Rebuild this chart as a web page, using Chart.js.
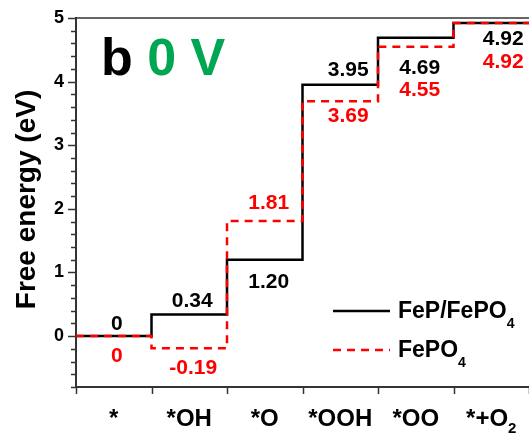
<!DOCTYPE html>
<html>
<head>
<meta charset="utf-8">
<script src="https://cdn.jsdelivr.net/npm/chart.js@4/dist/chart.umd.min.js"></script>
<style>
html,body{margin:0;padding:0;background:#fff;}
canvas{display:block;}
</style>
</head>
<body>
<canvas id="c" width="529" height="437"></canvas>
<script>
// ---- data ----
const categories = ['*', '*OH', '*O', '*OOH', '*OO', '*+O2'];
const seriesNames = ['FeP/FePO4', 'FePO4'];
const fepFepo4 = [0, 0.34, 1.20, 3.95, 4.69, 4.92];
const fepo4 = [0, -0.19, 1.81, 3.69, 4.55, 4.92];
const yTickLabels = [0, 1, 2, 3, 4, 5];
const yAxisTitle = 'Free energy (eV)';
const panelLetter = 'b';
const panelPotential = '0 V';

// label placement (pixel offsets from segment centre / line)
const blackLabelOffsets = [[3,-6],[3,-7],[4,28],[8,-9],[4,36],[12,22]];
const redLabelOffsets = [[3,26],[4,26],[4,-12],[8,21],[4,49],[12,45]];

const FONT = '"Liberation Sans", Arial, Helvetica, sans-serif';

function stepPoints(vals) {
  const pts = [];
  vals.forEach((v, i) => { pts.push({x: i, y: v}); pts.push({x: i + 1, y: v}); });
  return pts;
}

// split text so digits following a letter become subscripts
function parts(text) {
  const out = [];
  const re = /([A-Za-z])(\d+)/g;
  let last = 0, m;
  while ((m = re.exec(text)) !== null) {
    out.push({t: text.slice(last, m.index + 1), sub: false});
    out.push({t: m[2], sub: true});
    last = m.index + m[0].length;
  }
  if (last < text.length) out.push({t: text.slice(last), sub: false});
  return out;
}

function drawRich(ctx, text, x, y, size, subSize, subDy, align, color) {
  const ps = parts(text);
  let total = 0;
  ps.forEach(p => {
    ctx.font = 'bold ' + (p.sub ? subSize : size) + 'px ' + FONT;
    p.w = ctx.measureText(p.t).width;
    total += p.w;
  });
  let cx = align === 'center' ? x - total / 2 : x;
  ctx.fillStyle = color;
  ctx.textAlign = 'left';
  ctx.textBaseline = 'alphabetic';
  ps.forEach(p => {
    ctx.font = 'bold ' + (p.sub ? subSize : size) + 'px ' + FONT;
    ctx.fillText(p.t, cx, p.sub ? y + subDy : y);
    cx += p.w;
  });
}

const fmt = v => v === 0 ? '0' : v.toFixed(2);

const decor = {
  id: 'decor',
  afterDraw(chart) {
    const ctx = chart.ctx;
    const xs = chart.scales.x, ys = chart.scales.y;
    const area = chart.chartArea;
    ctx.save();
    // top frame
    ctx.strokeStyle = '#333';
    ctx.lineWidth = 1.5;
    ctx.beginPath();
    ctx.moveTo(area.left, area.top);
    ctx.lineTo(area.right + 2, area.top);
    ctx.stroke();

    // y ticks
    ctx.lineWidth = 1.5;
    for (let k = -4; k <= 25; k++) {
      const v = k * 0.2;
      const py = Math.round(ys.getPixelForValue(v)) + 0.5;
      const major = k % 5 === 0;
      ctx.beginPath();
      ctx.moveTo(area.left - (major ? 8 : 5), py);
      ctx.lineTo(area.left, py);
      ctx.stroke();
    }
    ctx.fillStyle = '#000';
    ctx.font = 'bold 18px ' + FONT;
    ctx.textAlign = 'right';
    ctx.textBaseline = 'middle';
    yTickLabels.forEach(v => {
      ctx.fillText(String(v), 64, ys.getPixelForValue(v));
    });

    // x ticks
    for (let i = 0; i <= categories.length; i++) {
      const px = Math.round(xs.getPixelForValue(i)) + 0.5;
      ctx.beginPath();
      ctx.moveTo(px, area.bottom);
      ctx.lineTo(px, area.bottom + 7);
      ctx.stroke();
    }
    categories.forEach((c, i) => {
      drawRich(ctx, c, xs.getPixelForValue(i + 0.5), 426, 24, 15, 7, 'center', '#000');
    });

    // y title
    ctx.save();
    ctx.translate(35, (area.top + area.bottom) / 2 - 3);
    ctx.rotate(-Math.PI / 2);
    ctx.font = 'bold 28px ' + FONT;
    ctx.fillStyle = '#000';
    ctx.textAlign = 'center';
    ctx.textBaseline = 'alphabetic';
    ctx.fillText(yAxisTitle, 0, 0);
    ctx.restore();

    // value labels
    ctx.font = 'bold 21px ' + FONT;
    ctx.textAlign = 'center';
    ctx.textBaseline = 'alphabetic';
    fepFepo4.forEach((v, i) => {
      ctx.fillStyle = '#000';
      ctx.fillText(fmt(v), xs.getPixelForValue(i + 0.5) + blackLabelOffsets[i][0], ys.getPixelForValue(v) + blackLabelOffsets[i][1]);
    });
    fepo4.forEach((v, i) => {
      ctx.fillStyle = '#ff0000';
      ctx.fillText(fmt(v), xs.getPixelForValue(i + 0.5) + redLabelOffsets[i][0], ys.getPixelForValue(v) + redLabelOffsets[i][1]);
    });

    // legend
    const lx0 = 333, lx1 = 390;
    const ly = [311, 350];
    const ds = chart.data.datasets;
    [ds[1], ds[0]].forEach((d, k) => {
      ctx.strokeStyle = d.borderColor;
      ctx.lineWidth = d.borderWidth;
      ctx.setLineDash(d.borderDash || []);
      ctx.beginPath();
      ctx.moveTo(lx0, ly[k]);
      ctx.lineTo(lx1, ly[k]);
      ctx.stroke();
      ctx.setLineDash([]);
      drawRich(ctx, seriesNames[k], 398, ly[k] + 7, 23, 14, 10, 'left', '#000');
    });

    // panel label
    ctx.font = 'bold 52px ' + FONT;
    ctx.textAlign = 'left';
    ctx.textBaseline = 'alphabetic';
    ctx.fillStyle = '#000';
    const bx = 101, by = 75;
    ctx.fillText(panelLetter, bx, by);
    const w = ctx.measureText(panelLetter + ' ').width;
    ctx.fillStyle = '#00a651';
    ctx.fillText(panelPotential, bx + w, by);
    ctx.restore();
  }
};

new Chart(document.getElementById('c'), {
  type: 'line',
  data: {
    datasets: [
      {
        label: seriesNames[1],
        data: stepPoints(fepo4),
        borderColor: '#ff0000',
        borderWidth: 2.5,
        borderDash: [8, 6],
        pointRadius: 0,
        fill: false,
        tension: 0,
        order: 0
      },
      {
        label: seriesNames[0],
        data: stepPoints(fepFepo4),
        borderColor: '#000000',
        borderWidth: 2.5,
        pointRadius: 0,
        fill: false,
        tension: 0,
        order: 1
      }
    ]
  },
  options: {
    responsive: false,
    animation: false,
    devicePixelRatio: 1,
    layout: {padding: {top: 18, right: 0, left: 0, bottom: 0}},
    plugins: {legend: {display: false}, tooltip: {enabled: false}},
    scales: {
      x: {
        type: 'linear',
        min: 0,
        max: categories.length,
        ticks: {display: false},
        grid: {display: false},
        border: {display: true, color: '#333', width: 2},
        afterFit(s) { s.height = 50; }
      },
      y: {
        type: 'linear',
        min: -0.8,
        max: 5,
        ticks: {display: false},
        grid: {display: false},
        border: {display: true, color: '#333', width: 2},
        afterFit(s) { s.width = 76; }
      }
    }
  },
  plugins: [decor]
});
</script>
</body>
</html>
